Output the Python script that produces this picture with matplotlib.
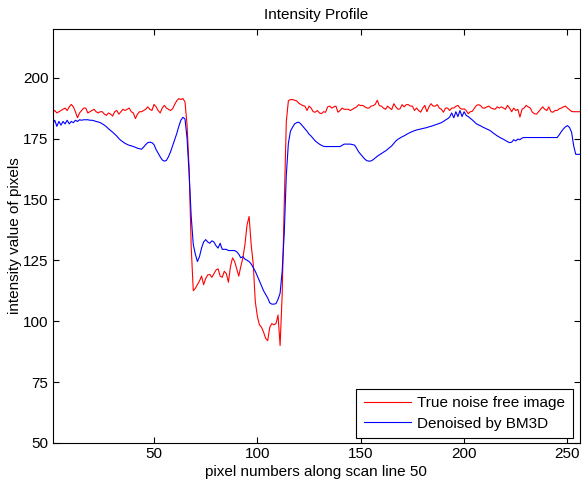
import matplotlib
matplotlib.use('Agg')
import matplotlib.pyplot as plt
import numpy as np

# 扫描线50上的像素强度 (1..256)
true_img = [
    186, 186.5, 185.5, 186, 186.5, 187, 187.5, 186.5, 188, 189, 188, 186, 183.5, 185.5, 186.5, 187.5,
    187.5, 185.5, 186, 186.5, 187, 186, 185.5, 186, 186, 185, 184.5, 185.5, 185, 184.2, 186, 186.5,
    185, 186, 187, 186.5, 187, 187.5, 186, 185.5, 183.2, 185, 186, 186, 186.5, 187, 188, 187,
    186.5, 189, 188, 186.5, 185.5, 187.5, 188.6, 187.5, 187, 186.5, 187.2, 189, 190.5, 191.4, 191, 191.4,
    190, 180.5, 162.5, 130.5, 112.5, 113.5, 115, 116.5, 118.5, 115, 117.5, 119, 119.2, 118, 119.5, 121,
    121.5, 118.5, 118, 120.5, 119.5, 116, 122.5, 126, 124.5, 121.5, 118.5, 122.5, 126, 131.5, 139.5, 143,
    131.5, 123.5, 108, 102, 98.5, 97.5, 95.5, 93, 92, 97.5, 99, 98.5, 99, 102.5, 90, 111,
    148, 182, 190.5, 191, 191, 190.7, 190.5, 189.5, 189, 188.5, 188.3, 186.5, 188.3, 187.5, 186, 185.8,
    186.5, 185.5, 185.2, 186, 185.8, 188, 188.3, 187.5, 188, 188.3, 185.8, 186.5, 187.5, 187, 187, 187,
    186.5, 187, 187.5, 188, 188.9, 188.5, 188.6, 188, 187.5, 187.5, 188.3, 188.5, 189, 190.7, 188.5, 188.3,
    187.5, 187, 188.3, 187.5, 186.9, 189.3, 188, 187, 187.2, 188.9, 188, 188.9, 188.9, 188.3, 188.3, 186.5,
    187.5, 186.5, 185.8, 187.5, 188.6, 186, 188, 189.3, 188.3, 188.3, 188.9, 187.5, 187, 185.8, 187.5, 187.5,
    186.5, 187.5, 187.5, 188.2, 188.6, 187.5, 187, 187.2, 186.5, 185.2, 186, 186.2, 187.5, 188.6, 188.9, 188.5,
    187.5, 187.5, 188, 188.3, 187.5, 187.2, 187, 188, 187.5, 188, 187.5, 187, 188.6, 187.5, 186, 187.5,
    186.5, 187, 183.8, 187, 187.5, 188.6, 188, 187.5, 185.8, 185.2, 185, 186, 187, 188, 187, 186.5,
    188, 186, 185.8, 186.5, 186.5, 187.2, 187.5, 188, 188.3, 187.5, 186.8, 186.1, 186, 186, 186, 186,
]

bm3d = [
    181, 182.5, 180, 182, 180.5, 182, 181, 182.5, 181, 182, 181.5, 182.5, 182, 182.7, 182.5, 182.7,
    182.7, 182.7, 182.5, 182.5, 182.3, 182, 181.8, 181.5, 181, 180.5, 179.8, 179, 178.3, 177.6, 176.8, 176,
    175, 174.2, 173.6, 173, 172.6, 172.2, 172, 171.7, 171.4, 171, 170.8, 170.6, 171.5, 172.5, 173.3, 173.5,
    173.3, 172.5, 170.5, 169, 167.5, 166.2, 165.7, 166, 167.5, 169.5, 172, 174.5, 177, 180, 182.5, 183.7,
    183, 175, 160.5, 143, 131.5, 127.5, 124.5, 126.5, 130, 132.5, 133.5, 132.5, 132, 133, 132.5, 131,
    130, 132, 129.5, 129.5, 129.5, 129, 129, 129, 129, 128.5, 127.5, 126, 126.5, 125.5, 125, 124.5,
    123.5, 122, 120.5, 118.5, 116.5, 114.5, 112.5, 111, 109.5, 107.5, 107, 107, 107.2, 109, 111.5, 120.5,
    136, 160, 173, 178, 179.6, 181, 181.5, 181.7, 181, 180, 179, 178, 176.8, 176, 175, 174,
    173.3, 172.7, 172.2, 171.8, 171.7, 171.7, 171.7, 171.7, 171.7, 171.7, 171.7, 171.7, 172.2, 172.7, 172.7, 172.7,
    172.7, 172.5, 172.3, 171, 169.5, 168.5, 167.5, 166.5, 165.9, 165.7, 165.8, 166.3, 167, 167.7, 168.3, 168.8,
    169.4, 169.9, 170.6, 171.3, 172, 173, 174, 174.7, 175.2, 175.7, 176.1, 176.6, 177.1, 177.5, 177.9, 178.2,
    178.5, 178.7, 178.9, 179.1, 179.3, 179.5, 179.8, 180, 180.3, 180.6, 180.9, 181.2, 181.5, 182, 182.6, 183.1,
    183.8, 185.5, 183.5, 186, 184, 186.5, 184, 186, 184.5, 184, 183.3, 182.6, 181.8, 181, 180.6, 180.2,
    179.7, 179.3, 178.9, 178.5, 178, 177.3, 176.7, 176.1, 175.6, 175.1, 174.7, 174.2, 173.7, 173.3, 173.5, 174.5,
    174, 174.8, 174.5, 175.2, 175.4, 175.4, 175.4, 175.4, 175.4, 175.4, 175.4, 175.4, 175.4, 175.4, 175.4, 175.4,
    175.4, 175.4, 175.4, 175.4, 175.4, 176.5, 177.8, 178.9, 179.8, 180.3, 179.5, 177.5, 172, 168.5, 168.5, 168.5,
]

x_ticks = [50, 100, 150, 200, 250]
y_ticks = [50, 75, 100, 125, 150, 175, 200]
labels = ['True noise free image', 'Denoised by BM3D']

plt.rcParams['font.family'] = ['Liberation Sans', 'DejaVu Sans']
plt.rcParams['font.size'] = 11

pix = np.arange(1, len(true_img) + 1)

fig = plt.figure(figsize=(5.88, 4.9), dpi=100)
ax = fig.add_axes([0.0896, 0.096, 0.8966, 0.845])
ax.plot(pix, true_img, color='r', lw=0.8, label=labels[0])
ax.plot(pix, bm3d, color='b', lw=0.8, label=labels[1])

ax.set_xlim(1, 256)
ax.set_ylim(50, 220)
ax.set_xticks(x_ticks)
ax.set_yticks(y_ticks)
ax.tick_params(direction='in', top=True, right=True, length=4.5, width=0.8, labelsize=11, pad=3)
for s in ax.spines.values():
    s.set_linewidth(0.8)

ax.set_title('Intensity Profile', fontsize=11, pad=7)
ax.set_xlabel('pixel numbers along scan line 50', fontsize=11, labelpad=3)
ax.set_ylabel('intensity value of pixels', fontsize=11, labelpad=1)

leg = ax.legend(loc='lower right', bbox_to_anchor=(0.9867, 0.0114), borderaxespad=0,
                fancybox=False, framealpha=1, edgecolor='k', handlelength=3.1,
                borderpad=0.5, labelspacing=0.4, handletextpad=0.4)
leg.get_frame().set_linewidth(0.8)

fig.savefig('out.png', dpi=100)
